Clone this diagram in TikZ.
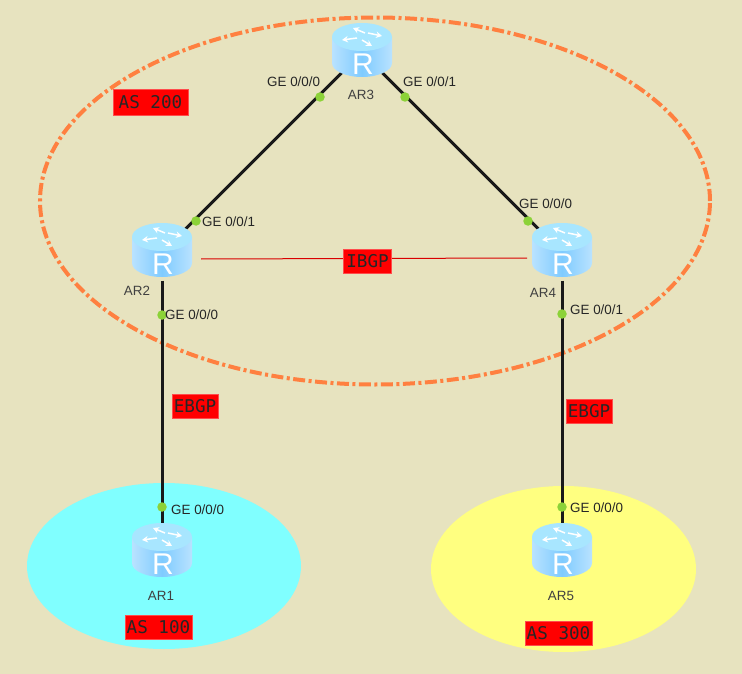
\documentclass[tikz,border=0pt]{standalone}
\usepackage{fontspec}
\setmainfont{Liberation Sans}
\newfontfamily\asfont{DejaVu Sans Mono}
\usetikzlibrary{arrows.meta, shapes.geometric}
\definecolor{paper}{HTML}{E7E3BF}
\definecolor{dotgreen}{HTML}{8CD238}
\definecolor{ringorange}{HTML}{FF8040}
\definecolor{routerlight}{HTML}{A8E6FF}
\definecolor{routermid}{HTML}{7FCBFF}
\definecolor{areacyan}{HTML}{80FFFF}
\definecolor{areayellow}{HTML}{FFFF80}
\tikzset{
  routerbox/.style={ellipse, minimum width=58pt, minimum height=56pt, inner sep=0pt},
  link/.style={line width=3pt, black!90},
  port/.style={circle, fill=dotgreen, minimum size=9.5pt, inner sep=0pt},
  gelabel/.style={font=\fontsize{13.4}{14}\selectfont, text=black!85, inner sep=0pt, anchor=west},
  arlabel/.style={font=\fontsize{13.4}{14}\selectfont, text=black!75, inner sep=0pt},
  tag/.style={fill=red, draw=red!70!white, line width=.6pt, font=\fontsize{17.6}{20}\asfont, text=black!85, inner sep=0pt, minimum height=24pt},
  router/.pic={
    \path[left color=routermid!55!white, right color=routermid!55!white, middle color=routermid]
      (-30,-13) -- (-30,13) arc[start angle=180, end angle=360, x radius=30pt, y radius=14pt] -- (30,-13) -- cycle;
    \fill[routerlight] (0,-13) ellipse[x radius=30pt, y radius=14pt];
    \foreach \a/\b/\c/\d in {3/-17/-9/-22, 6/-17/20/-14, -5/-12/-20/-10, 0/-10/10/-4}
      \draw[white, line width=1.5pt, -{Stealth[length=6pt, width=6.5pt]}] (\a,\b) -- (\c,\d);
    \node[font=\fontsize{30}{30}\selectfont, text=white, inner sep=0pt] (letter) at (1,14) {R};
  }
}
\begin{document}
\begin{tikzpicture}[x=1pt, y=-1pt]
  \fill[paper] (0,0) rectangle (742,674);
  \useasboundingbox (0,0) rectangle (742,674);

  % areas
  \node[ellipse, fill=areacyan, minimum width=274pt, minimum height=166pt] (as100) at (164,566) {};
  \node[ellipse, fill=areayellow, minimum width=265pt, minimum height=166pt] (as300) at (563.5,569) {};
  \node[ellipse, draw=ringorange, line width=4pt, minimum width=670pt, minimum height=367pt,
    dash pattern=on 12pt off 3.5pt on 3pt off 3.5pt] (as200) at (375,201) {};

  % routers
  \node[routerbox] (ar3) at (362,52.5) {};
  \node[routerbox] (ar2) at (162,252.5) {};
  \node[routerbox] (ar4) at (562,252.5) {};
  \node[routerbox] (ar1) at (162,552.5) {};
  \node[routerbox] (ar5) at (562,552.5) {};

  \draw[link] (ar3) -- (ar2);
  \draw[link] (ar3) -- (ar4);
  \draw[link] (ar2) -- (ar1);
  \draw[link] (ar4) -- (ar5);

  \coordinate (ibgpa) at (201,259);
  \coordinate (ibgpb) at (527,258);
  \draw[red!85!black, line width=1pt] (ibgpa) -- (ibgpb);

  \pic (icon3) at (362,50) {router};
  \pic (icon2) at (162,250) {router};
  \pic (icon4) at (562,250) {router};
  \pic (icon1) at (162,550) {router};
  \pic (icon5) at (562,550) {router};

  % ports
  \node[port] (p32) at (320,97) {};
  \node[port] (p34) at (405,97) {};
  \node[port] (p23) at (196,221) {};
  \node[port] (p43) at (528,221) {};
  \node[port] (p21) at (162,315) {};
  \node[port] (p45) at (562,314) {};
  \node[port] (p12) at (162,507) {};
  \node[port] (p54) at (562,507) {};

  \node[gelabel] (g32) at (267,82) {GE 0/0/0};
  \node[gelabel] (g34) at (403,82) {GE 0/0/1};
  \node[gelabel] (g23) at (202,222) {GE 0/0/1};
  \node[gelabel] (g43) at (519,204) {GE 0/0/0};
  \node[gelabel] (g21) at (165,315) {GE 0/0/0};
  \node[gelabel] (g45) at (570,310) {GE 0/0/1};
  \node[gelabel] (g12) at (171,510) {GE 0/0/0};
  \node[gelabel] (g54) at (570,508) {GE 0/0/0};

  \node[arlabel] (n3) at (361,95) {AR3};
  \node[arlabel] (n2) at (137,291) {AR2};
  \node[arlabel] (n4) at (543,293) {AR4};
  \node[arlabel] (n1) at (161,596) {AR1};
  \node[arlabel] (n5) at (561,596) {AR5};

  % tags
  \node[tag, minimum width=75pt, minimum height=26pt] (t200) at (150.5,102) {AS 200};
  \node[tag, minimum width=67pt] (t100) at (158.5,627) {AS 100};
  \node[tag, minimum width=67pt] (t300) at (558.5,633) {AS 300};
  \node[tag, minimum width=48pt] (tibgp) at (367.5,261) {IBGP};
  \node[tag, minimum width=46pt] (tebgp1) at (195,406) {EBGP};
  \node[tag, minimum width=46pt] (tebgp2) at (589,411) {EBGP};
\end{tikzpicture}
\end{document}
